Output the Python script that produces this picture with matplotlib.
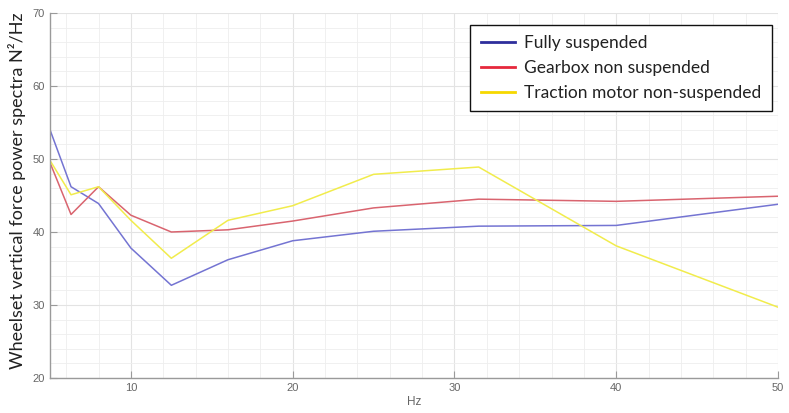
import matplotlib
matplotlib.use("Agg")
import matplotlib.pyplot as plt
from matplotlib.lines import Line2D
from matplotlib.ticker import MultipleLocator

# One-third octave band centre frequencies (Hz)
freq = [5, 6.3, 8, 10, 12.5, 16, 20, 25, 31.5, 40, 50]

# Wheelset vertical force PSD per configuration
fully_suspended = [54.0, 46.2, 43.9, 37.8, 32.7, 36.2, 38.8, 40.1, 40.8, 40.9, 43.8]
gearbox_non_susp = [49.5, 42.4, 46.2, 42.3, 40.0, 40.3, 41.5, 43.3, 44.5, 44.2, 44.9]
traction_non_susp = [49.8, 45.1, 46.2, 41.6, 36.4, 41.6, 43.6, 47.9, 48.9, 38.1, 29.7]

labels = ["Fully suspended", "Gearbox non suspended", "Traction motor non-suspended"]
line_colors = ["#7474d2", "#d9646f", "#f1ec4c"]
legend_colors = ["#2e2e9c", "#e6283c", "#f6d800"]

fig = plt.figure(figsize=(7.89, 4.13), dpi=100)
ax = fig.add_axes([50 / 789, 35 / 413, 728 / 789, 365 / 413])

for vals, c in zip([fully_suspended, gearbox_non_susp, traction_non_susp], line_colors):
    ax.plot(freq, vals, color=c, linewidth=1.1)

ax.set_xlim(5, 50)
ax.set_ylim(20, 70)
ax.xaxis.set_major_locator(MultipleLocator(10))
ax.yaxis.set_major_locator(MultipleLocator(10))
ax.xaxis.set_minor_locator(MultipleLocator(2))
ax.yaxis.set_minor_locator(MultipleLocator(2))
ax.grid(which="major", color="#e3e3e3", linewidth=0.8)
ax.grid(which="minor", color="#eeeeee", linewidth=0.6)
ax.set_axisbelow(True)

for side in ["top", "right"]:
    ax.spines[side].set_visible(False)
for side in ["left", "bottom"]:
    ax.spines[side].set_color("#9a9a9a")
    ax.spines[side].set_linewidth(1.0)

ax.tick_params(which="major", direction="in", length=5, color="#9a9a9a",
               labelcolor="#666666", labelsize=8)
ax.tick_params(which="minor", length=0)
for lab in ax.get_xticklabels() + ax.get_yticklabels():
    lab.set_family("Liberation Sans")

ax.set_xlabel("Hz", fontsize=8.5, color="#666666", family="Liberation Sans", labelpad=2)
ax.set_ylabel("Wheelset vertical force power spectra N²/Hz", fontsize=13,
              color="#222222", family="Lato")
ax.yaxis.set_label_coords(-0.033, 0.512)

handles = [Line2D([0], [0], color=c, linewidth=2) for c in legend_colors]
leg = ax.legend(handles, labels, loc="upper right", bbox_to_anchor=(0.9915, 0.967),
                fancybox=False, framealpha=1, edgecolor="#111111",
                prop={"family": "Lato", "size": 12.5}, handlelength=2.0,
                borderpad=0.6, labelspacing=0.5, handletextpad=0.5,
                borderaxespad=0)
leg.get_frame().set_linewidth(1.0)
for t in leg.get_texts():
    t.set_color("#222222")

fig.savefig("out.png", dpi=100)
